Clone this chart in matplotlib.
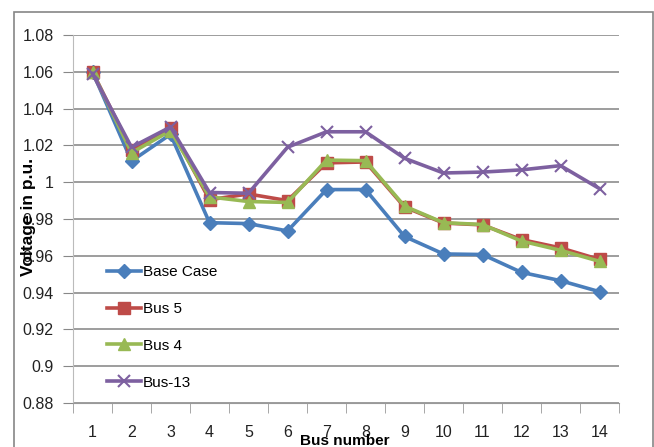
import numpy as np
import matplotlib
matplotlib.use("Agg")
from matplotlib import pyplot as plt
from matplotlib.patches import Rectangle

plt.rcParams['font.family'] = ['Liberation Sans', 'DejaVu Sans']

buses = list(range(1, 15))
base_case = [1.06, 1.0115, 1.026, 0.978, 0.9775, 0.9735, 0.996, 0.996, 0.9705, 0.961, 0.9607, 0.951, 0.9465, 0.9405]
bus5 = [1.06, 1.0175, 1.0296, 0.9905, 0.9936, 0.990, 1.0105, 1.011, 0.9865, 0.9778, 0.9768, 0.9688, 0.9643, 0.958]
bus4 = [1.06, 1.016, 1.028, 0.992, 0.9895, 0.989, 1.012, 1.0117, 0.987, 0.978, 0.977, 0.968, 0.963, 0.957]
bus13 = [1.059, 1.019, 1.03, 0.9944, 0.994, 1.019, 1.0274, 1.0274, 1.013, 1.005, 1.0055, 1.0067, 1.009, 0.9965]
yticks = [0.88, 0.9, 0.92, 0.94, 0.96, 0.98, 1, 1.02, 1.04, 1.06, 1.08]
ytick_labels = ['0.88', '0.9', '0.92', '0.94', '0.96', '0.98', '1', '1.02', '1.04', '1.06', '1.08']

fig = plt.figure(figsize=(6.54, 4.47), dpi=100)
ax = fig.add_axes([73/654, 1-403/447, 546/654, 368/447])

ax.plot(buses, base_case, color="#4A7EBB", lw=2.6, marker='D', ms=7, label="Base Case", zorder=3)
ax.plot(buses, bus5, color="#BE4B48", lw=2.6, marker='s', ms=8.5, label="Bus 5", zorder=3)
ax.plot(buses, bus4, color="#98B954", lw=2.6, marker='^', ms=9, label="Bus 4", zorder=4)
ax.plot(buses, bus13, color="#7D60A0", lw=2.6, marker='x', ms=9, mew=1.5, label="Bus-13", zorder=5)

ax.set_xlim(0.5, 14.5)
ax.set_ylim(0.88, 1.08)
ax.set_yticks(yticks)
ax.set_yticklabels(ytick_labels)
ax.set_xticks(buses)
ax.set_xticks(np.arange(0.5, 15, 1), minor=True)
ax.tick_params(axis='x', which='major', length=0, pad=16, labelsize=11.5, colors='#222222')
ax.tick_params(axis='x', which='minor', length=7, color='#999999', direction='out')
ax.tick_params(axis='y', length=7, color='#888888', labelsize=11.5, labelcolor='#222222', pad=7)

ax.grid(axis='y', color='#8c8c8c', lw=1.2)
ax.set_axisbelow(True)
for side in ['top', 'right']:
    ax.spines[side].set_visible(False)
ax.spines['left'].set_color('#bbbbbb')
ax.spines['bottom'].set_color('#999999')

fig.text(28/654, 1-217/447, 'Voltage in p.u.', rotation=90, ha='center', va='center',
         fontsize=12.5, fontweight='bold')
fig.text(345/654, 1-441/447, 'Bus number', ha='center', va='center',
         fontsize=11, fontweight='bold')

ax.legend(loc='upper left', bbox_to_anchor=(107/654, 1-265/447), bbox_transform=fig.transFigure,
          frameon=False, fontsize=11, labelspacing=1.5, handlelength=2.2, handletextpad=0.15,
          borderpad=0, borderaxespad=0)

fig.patches.append(Rectangle((14/654, -0.1), 639/654, 1.1-12/447, transform=fig.transFigure,
                             fill=False, edgecolor='#868686', lw=1.2))

fig.savefig('out.png', dpi=100)
